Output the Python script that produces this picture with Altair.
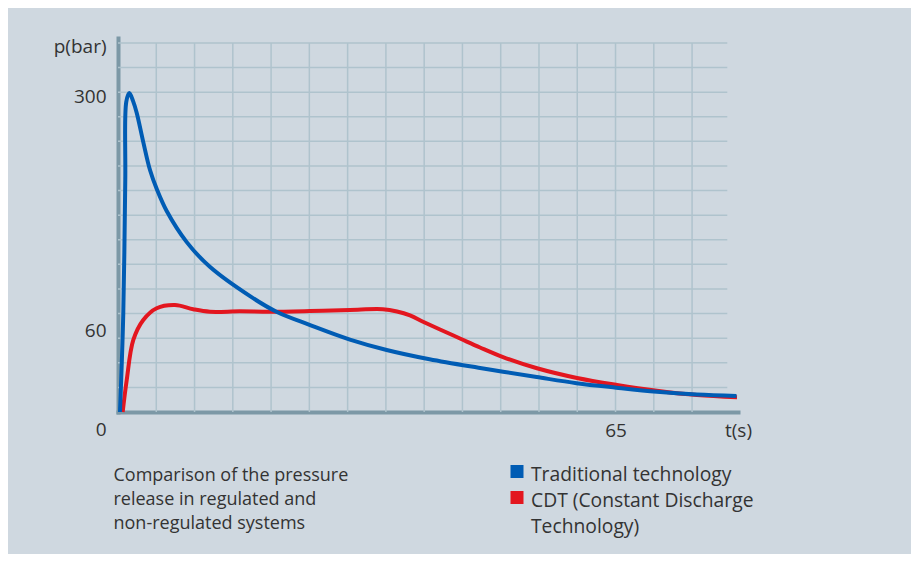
import altair as alt
import pandas as pd

# ---- data (t in s, p in bar) ----
trad_name = "Traditional technology"
cdt_name = "CDT (Constant Discharge Technology)"

trad_t = [0.26, 0.69, 0.95, 1.08, 1.48, 1.96, 2.44, 3.31, 4.18, 5.10, 6.36, 8.98, 12.0,
          17.3, 20.7, 25.1, 30.3, 35.1, 40.7, 47.1, 50.3, 54.7, 59.9, 65.1, 70.4, 75.6, 80.8]
trad_p = [0, 77, 212, 291, 300, 292, 280, 250, 222, 202, 180.5, 149, 124,
          94, 78.5, 65, 53, 45.4, 38.6, 32.4, 29.5, 25.6, 21.1, 17.8, 14.8, 12.8, 11.7]

cdt_t = [0.61, 1.14, 2.0, 3.3, 5.05, 7.44, 9.83, 12.0, 15.9, 19.85, 25.1, 30.3, 34.6,
         36.45, 38.15, 39.85, 42.07, 44.68, 47.3, 50.3, 54.74, 59.97, 65.2, 70.4, 75.65, 80.87]
cdt_p = [0, 23.4, 52.7, 70.1, 82.0, 85.3, 81.0, 78.5, 78.9, 78.5, 79.2, 80.3, 81.0,
         78.7, 74.7, 68.4, 60.5, 53.8, 47.2, 40.2, 32.0, 24.9, 19.8, 15.6, 12.4, 10.8]

# grid (schematic background mesh): every 5 s, 15 rows
grid_t = [5, 10, 15, 20, 25, 30, 35, 40, 45, 50, 55, 60, 65, 70, 75]
grid_rows = list(range(1, 16))
grid_end_t = 79.6

y_ticks = [0, 60, 300]
t_end = 81
x_ticks = [65, t_end]

caption = ["Comparison of the pressure", "release in regulated and", "non-regulated systems"]

# ---- style ----
BG = "#cfd8e0"
GRID = "#afc3cd"
AXIS = "#7c98a6"
BLUE = "#005cb4"
RED = "#e3161f"
TXT = "#333333"
FONT = "Open Sans"

trad_df = pd.DataFrame({"t": trad_t, "p": trad_p, "series": trad_name})
cdt_df = pd.DataFrame({"t": cdt_t, "p": cdt_p, "series": cdt_name})
# red first so that the blue line is drawn on top
curve_df = pd.concat([cdt_df, trad_df], ignore_index=True)
vgrid = pd.DataFrame({"t": grid_t, "k0": 0, "k1": max(grid_rows)})
hgrid = pd.DataFrame({"k": grid_rows, "t0": 0, "t1": grid_end_t})

xscale = alt.Scale(domain=[0, t_end], nice=False, zero=False)
cell_scale = alt.Scale(domain=[0, 15.2], nice=False, zero=False)
pscale = alt.Scale(domain=[0, 60, 300, 355.7], range=[374, 292, 55, 0], nice=False, zero=False)
color_scale = alt.Scale(domain=[trad_name, cdt_name], range=[BLUE, RED])

x_axis = alt.Axis(
    values=x_ticks, grid=False, ticks=False, tickSize=0, domainColor=AXIS, domainWidth=4,
    domainCap="square", labelFontSize=19, labelFont=FONT, labelColor=TXT, labelPadding=9,
    labelFlush=False, labelOverlap=False, labelBound=False,
    labelExpr=f"datum.value == {t_end} ? 't(s)' : datum.label",
    title=caption, titleFontSize=18, titleFont=FONT, titleColor=TXT, titleFontWeight="normal",
    titleX=-5, titleY=68, titleAlign="left", titleBaseline="alphabetic", titleLineHeight=24,
    orient="bottom",
)
y_axis = alt.Axis(
    values=y_ticks, grid=False, ticks=False, tickSize=0, domainColor=AXIS, domainWidth=4,
    domainCap="square", labelFontSize=19, labelFont=FONT, labelColor=TXT, labelPadding=12,
    labelOffset={"condition": [{"test": "datum.value == 0", "value": 17},
                               {"test": "datum.value == 300", "value": 3}], "value": 0},
    title="p(bar)", titleFontSize=19, titleFont=FONT, titleColor=TXT, titleFontWeight="normal",
    titleAngle=0, titleAlign="right", titleBaseline="alphabetic", titleX=-12, titleY=14,
    orient="left",
)

grid_v = alt.Chart(vgrid).mark_rule(color=GRID, strokeWidth=1.5).encode(
    x=alt.X("t:Q", scale=xscale, axis=x_axis),
    y=alt.Y("k0:Q", scale=cell_scale, axis=None),
    y2="k1:Q",
)
grid_h = alt.Chart(hgrid).mark_rule(color=GRID, strokeWidth=1.5).encode(
    y=alt.Y("k:Q", scale=cell_scale, axis=None),
    x=alt.X("t0:Q", scale=xscale, axis=x_axis),
    x2="t1:Q",
)
grid = alt.layer(grid_v, grid_h)

legend = alt.Legend(
    title=None, orient="none", legendX=389, legendY=427, padding=0,
    symbolType="M-0.5,-1.038H0.5V-0.038H-0.5Z", symbolSize=169, symbolStrokeWidth=6.5,
    labelFontSize=19.3, labelFont=FONT, labelColor=TXT, labelOffset=4, labelLimit=500,
    rowPadding=-7,
    labelExpr="datum.label == 'CDT (Constant Discharge Technology)' ? ['CDT (Constant Discharge', 'Technology)'] : datum.label",
)

curves = alt.Chart(curve_df).mark_line(strokeWidth=4, interpolate="catmull-rom").encode(
    x=alt.X("t:Q", scale=xscale, axis=x_axis),
    y=alt.Y("p:Q", scale=pscale, axis=y_axis),
    color=alt.Color("series:N", scale=color_scale, legend=legend),
    order=alt.Order("t:Q"),
)

chart = alt.layer(grid, curves).resolve_scale(y="independent").properties(
    width=620,
    height=374,
    autosize=alt.AutoSizeParams(type="none"),
    padding={"left": 110, "top": 30, "right": 173, "bottom": 142},
).configure(
    background=BG, font=FONT, style={"guide-label": {"lineHeight": 26}}
).configure_view(strokeWidth=0)

chart.save("out.html", embed_options={"renderer": "svg", "actions": False})
